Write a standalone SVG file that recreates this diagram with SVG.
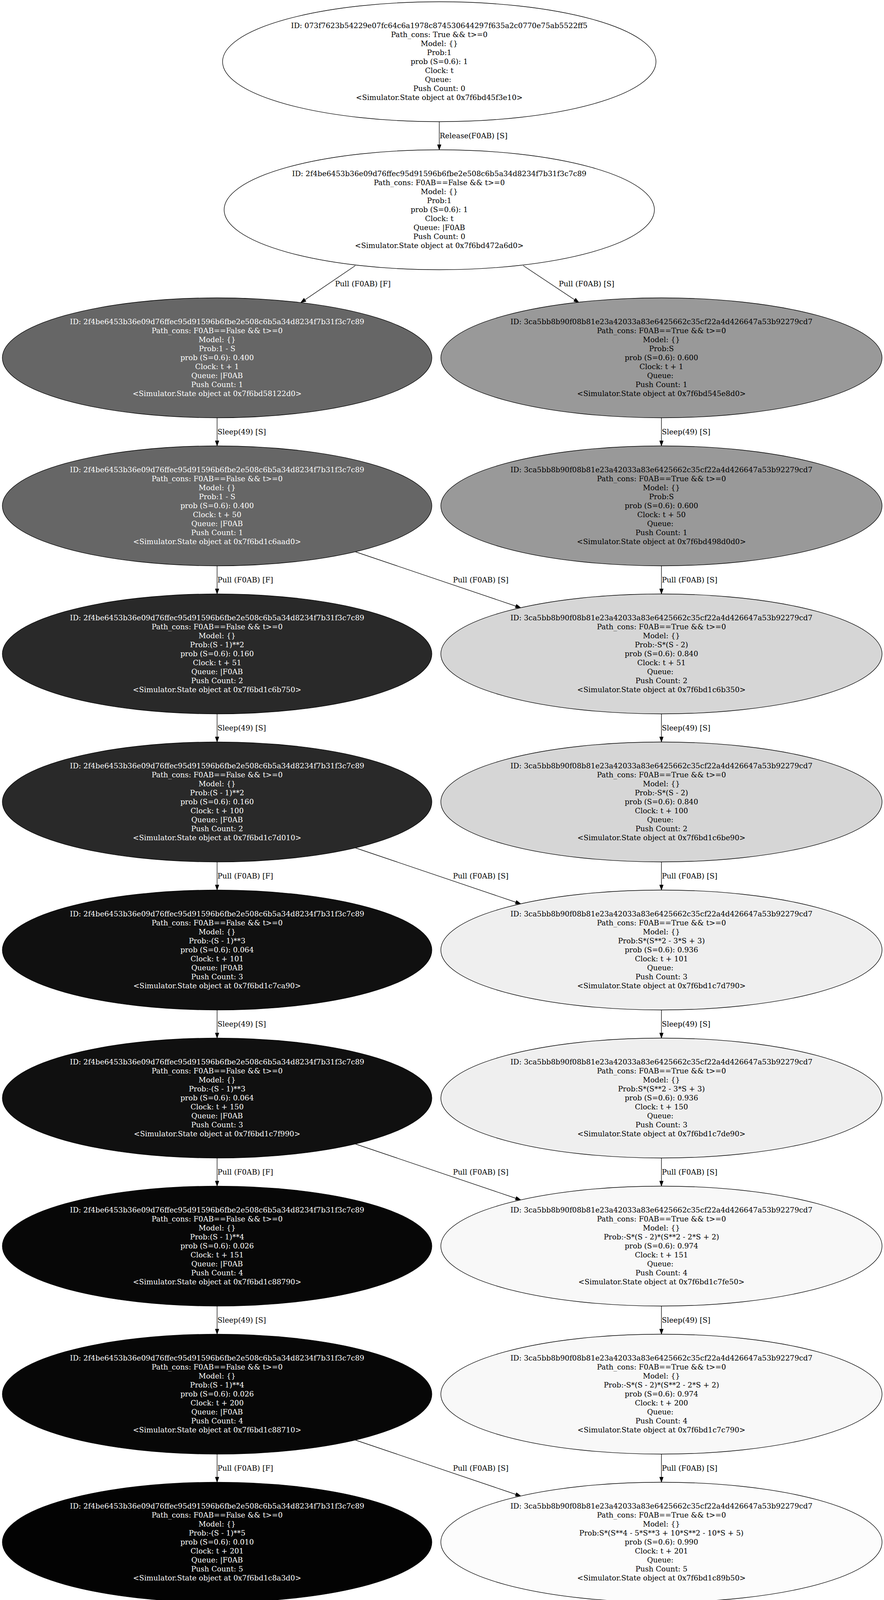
<svg xmlns="http://www.w3.org/2000/svg" width="2264" height="4107" viewBox="0 0 2264 4107">
<style>
text{font-family:"DejaVu Serif","Liberation Serif",serif;font-size:18.67px}
.nt{text-anchor:middle;fill:#000}
.wt{text-anchor:middle;fill:#fff}
.lb{text-anchor:start;fill:#000}
ellipse{stroke:#000;stroke-width:1.33}
.edges line{stroke:#000;stroke-width:1.33;fill:none;marker-end:url(#ah)}
</style>
<defs>
<marker id="ah" markerWidth="15" markerHeight="10" refX="14" refY="5" orient="auto" markerUnits="userSpaceOnUse"><path d="M0,0 L14,5 L0,10 Z" fill="#000" stroke="#000" stroke-width="1"/></marker>
</defs>
<rect width="2264" height="4107" fill="#fff"/>
<g id="edges" class="edges">
<line x1="1125" y1="311.5" x2="1125" y2="383.5"/>
<text class="lb" x="1126" y="353.5">Release(F0AB) [S]</text>
<line x1="910" y1="680" x2="770" y2="775"/>
<text class="lb" x="858" y="733">Pull (F0AB) [F]</text>
<line x1="1340" y1="680" x2="1483" y2="775"/>
<text class="lb" x="1431" y="733">Pull (F0AB) [S]</text>
<line x1="556" y1="1069.5" x2="556" y2="1141.5"/>
<text class="lb" x="557" y="1111.5">Sleep(49) [S]</text>
<line x1="1694" y1="1069.5" x2="1694" y2="1141.5"/>
<text class="lb" x="1695" y="1111.5">Sleep(49) [S]</text>
<line x1="556" y1="1448.5" x2="556" y2="1520.5"/>
<text class="lb" x="557" y="1490.5">Pull (F0AB) [F]</text>
<line x1="910" y1="1412.5" x2="1334" y2="1556"/>
<text class="lb" x="1160" y="1490.5">Pull (F0AB) [S]</text>
<line x1="1694" y1="1448.5" x2="1694" y2="1520.5"/>
<text class="lb" x="1695" y="1490.5">Pull (F0AB) [S]</text>
<line x1="556" y1="1827.5" x2="556" y2="1899.5"/>
<text class="lb" x="557" y="1869.5">Sleep(49) [S]</text>
<line x1="1694" y1="1827.5" x2="1694" y2="1899.5"/>
<text class="lb" x="1695" y="1869.5">Sleep(49) [S]</text>
<line x1="556" y1="2206.5" x2="556" y2="2278.5"/>
<text class="lb" x="557" y="2248.5">Pull (F0AB) [F]</text>
<line x1="910" y1="2170.5" x2="1334" y2="2314"/>
<text class="lb" x="1160" y="2248.5">Pull (F0AB) [S]</text>
<line x1="1694" y1="2206.5" x2="1694" y2="2278.5"/>
<text class="lb" x="1695" y="2248.5">Pull (F0AB) [S]</text>
<line x1="556" y1="2585.5" x2="556" y2="2657.5"/>
<text class="lb" x="557" y="2627.5">Sleep(49) [S]</text>
<line x1="1694" y1="2585.5" x2="1694" y2="2657.5"/>
<text class="lb" x="1695" y="2627.5">Sleep(49) [S]</text>
<line x1="556" y1="2964.5" x2="556" y2="3036.5"/>
<text class="lb" x="557" y="3006.5">Pull (F0AB) [F]</text>
<line x1="910" y1="2928.5" x2="1334" y2="3072"/>
<text class="lb" x="1160" y="3006.5">Pull (F0AB) [S]</text>
<line x1="1694" y1="2964.5" x2="1694" y2="3036.5"/>
<text class="lb" x="1695" y="3006.5">Pull (F0AB) [S]</text>
<line x1="556" y1="3343.5" x2="556" y2="3415.5"/>
<text class="lb" x="557" y="3385.5">Sleep(49) [S]</text>
<line x1="1694" y1="3343.5" x2="1694" y2="3415.5"/>
<text class="lb" x="1695" y="3385.5">Sleep(49) [S]</text>
<line x1="556" y1="3722.5" x2="556" y2="3794.5"/>
<text class="lb" x="557" y="3764.5">Pull (F0AB) [F]</text>
<line x1="910" y1="3686.5" x2="1334" y2="3830"/>
<text class="lb" x="1160" y="3764.5">Pull (F0AB) [S]</text>
<line x1="1694" y1="3722.5" x2="1694" y2="3794.5"/>
<text class="lb" x="1695" y="3764.5">Pull (F0AB) [S]</text>
</g>
<g id="n0">
<ellipse cx="1125" cy="158" rx="555" ry="153.5" fill="#fff"/>
<text class="nt" y="72"><tspan x="1125">ID: 073f7623b54229e07fc64c6a1978c874530644297f635a2c0770e75ab5522ff5</tspan><tspan x="1125" dy="23">Path_cons: True &amp;&amp; t&gt;=0</tspan><tspan x="1125" dy="23">Model: {}</tspan><tspan x="1125" dy="23">Prob:1</tspan><tspan x="1125" dy="23">prob (S=0.6): 1</tspan><tspan x="1125" dy="23">Clock: t</tspan><tspan x="1125" dy="23">Queue: </tspan><tspan x="1125" dy="23">Push Count: 0</tspan><tspan x="1125" dy="23">&lt;Simulator.State object at 0x7f6bd45f3e10&gt;</tspan></text>
</g>
<g id="n1">
<ellipse cx="1125" cy="537" rx="551" ry="153.5" fill="#fff"/>
<text class="nt" y="451"><tspan x="1125">ID: 2f4be6453b36e09d76ffec95d91596b6fbe2e508c6b5a34d8234f7b31f3c7c89</tspan><tspan x="1125" dy="23">Path_cons: F0AB==False &amp;&amp; t&gt;=0</tspan><tspan x="1125" dy="23">Model: {}</tspan><tspan x="1125" dy="23">Prob:1</tspan><tspan x="1125" dy="23">prob (S=0.6): 1</tspan><tspan x="1125" dy="23">Clock: t</tspan><tspan x="1125" dy="23">Queue: |F0AB</tspan><tspan x="1125" dy="23">Push Count: 0</tspan><tspan x="1125" dy="23">&lt;Simulator.State object at 0x7f6bd472a6d0&gt;</tspan></text>
</g>
<g id="l1">
<ellipse cx="556" cy="916" rx="550" ry="153.5" fill="#666666"/>
<text class="wt" y="830"><tspan x="556">ID: 2f4be6453b36e09d76ffec95d91596b6fbe2e508c6b5a34d8234f7b31f3c7c89</tspan><tspan x="556" dy="23">Path_cons: F0AB==False &amp;&amp; t&gt;=0</tspan><tspan x="556" dy="23">Model: {}</tspan><tspan x="556" dy="23">Prob:1 - S</tspan><tspan x="556" dy="23">prob (S=0.6): 0.400</tspan><tspan x="556" dy="23">Clock: t + 1</tspan><tspan x="556" dy="23">Queue: |F0AB</tspan><tspan x="556" dy="23">Push Count: 1</tspan><tspan x="556" dy="23">&lt;Simulator.State object at 0x7f6bd58122d0&gt;</tspan></text>
</g>
<g id="r1">
<ellipse cx="1694" cy="916" rx="565" ry="153.5" fill="#999999"/>
<text class="nt" y="830"><tspan x="1694">ID: 3ca5bb8b90f08b81e23a42033a83e6425662c35cf22a4d426647a53b92279cd7</tspan><tspan x="1694" dy="23">Path_cons: F0AB==True &amp;&amp; t&gt;=0</tspan><tspan x="1694" dy="23">Model: {}</tspan><tspan x="1694" dy="23">Prob:S</tspan><tspan x="1694" dy="23">prob (S=0.6): 0.600</tspan><tspan x="1694" dy="23">Clock: t + 1</tspan><tspan x="1694" dy="23">Queue: </tspan><tspan x="1694" dy="23">Push Count: 1</tspan><tspan x="1694" dy="23">&lt;Simulator.State object at 0x7f6bd545e8d0&gt;</tspan></text>
</g>
<g id="l2">
<ellipse cx="556" cy="1295" rx="550" ry="153.5" fill="#666666"/>
<text class="wt" y="1209"><tspan x="556">ID: 2f4be6453b36e09d76ffec95d91596b6fbe2e508c6b5a34d8234f7b31f3c7c89</tspan><tspan x="556" dy="23">Path_cons: F0AB==False &amp;&amp; t&gt;=0</tspan><tspan x="556" dy="23">Model: {}</tspan><tspan x="556" dy="23">Prob:1 - S</tspan><tspan x="556" dy="23">prob (S=0.6): 0.400</tspan><tspan x="556" dy="23">Clock: t + 50</tspan><tspan x="556" dy="23">Queue: |F0AB</tspan><tspan x="556" dy="23">Push Count: 1</tspan><tspan x="556" dy="23">&lt;Simulator.State object at 0x7f6bd1c6aad0&gt;</tspan></text>
</g>
<g id="r2">
<ellipse cx="1694" cy="1295" rx="565" ry="153.5" fill="#999999"/>
<text class="nt" y="1209"><tspan x="1694">ID: 3ca5bb8b90f08b81e23a42033a83e6425662c35cf22a4d426647a53b92279cd7</tspan><tspan x="1694" dy="23">Path_cons: F0AB==True &amp;&amp; t&gt;=0</tspan><tspan x="1694" dy="23">Model: {}</tspan><tspan x="1694" dy="23">Prob:S</tspan><tspan x="1694" dy="23">prob (S=0.6): 0.600</tspan><tspan x="1694" dy="23">Clock: t + 50</tspan><tspan x="1694" dy="23">Queue: </tspan><tspan x="1694" dy="23">Push Count: 1</tspan><tspan x="1694" dy="23">&lt;Simulator.State object at 0x7f6bd498d0d0&gt;</tspan></text>
</g>
<g id="l3">
<ellipse cx="556" cy="1674" rx="550" ry="153.5" fill="#292929"/>
<text class="wt" y="1588"><tspan x="556">ID: 2f4be6453b36e09d76ffec95d91596b6fbe2e508c6b5a34d8234f7b31f3c7c89</tspan><tspan x="556" dy="23">Path_cons: F0AB==False &amp;&amp; t&gt;=0</tspan><tspan x="556" dy="23">Model: {}</tspan><tspan x="556" dy="23">Prob:(S - 1)**2</tspan><tspan x="556" dy="23">prob (S=0.6): 0.160</tspan><tspan x="556" dy="23">Clock: t + 51</tspan><tspan x="556" dy="23">Queue: |F0AB</tspan><tspan x="556" dy="23">Push Count: 2</tspan><tspan x="556" dy="23">&lt;Simulator.State object at 0x7f6bd1c6b750&gt;</tspan></text>
</g>
<g id="r3">
<ellipse cx="1694" cy="1674" rx="565" ry="153.5" fill="#d6d6d6"/>
<text class="nt" y="1588"><tspan x="1694">ID: 3ca5bb8b90f08b81e23a42033a83e6425662c35cf22a4d426647a53b92279cd7</tspan><tspan x="1694" dy="23">Path_cons: F0AB==True &amp;&amp; t&gt;=0</tspan><tspan x="1694" dy="23">Model: {}</tspan><tspan x="1694" dy="23">Prob:-S*(S - 2)</tspan><tspan x="1694" dy="23">prob (S=0.6): 0.840</tspan><tspan x="1694" dy="23">Clock: t + 51</tspan><tspan x="1694" dy="23">Queue: </tspan><tspan x="1694" dy="23">Push Count: 2</tspan><tspan x="1694" dy="23">&lt;Simulator.State object at 0x7f6bd1c6b350&gt;</tspan></text>
</g>
<g id="l4">
<ellipse cx="556" cy="2053" rx="550" ry="153.5" fill="#292929"/>
<text class="wt" y="1967"><tspan x="556">ID: 2f4be6453b36e09d76ffec95d91596b6fbe2e508c6b5a34d8234f7b31f3c7c89</tspan><tspan x="556" dy="23">Path_cons: F0AB==False &amp;&amp; t&gt;=0</tspan><tspan x="556" dy="23">Model: {}</tspan><tspan x="556" dy="23">Prob:(S - 1)**2</tspan><tspan x="556" dy="23">prob (S=0.6): 0.160</tspan><tspan x="556" dy="23">Clock: t + 100</tspan><tspan x="556" dy="23">Queue: |F0AB</tspan><tspan x="556" dy="23">Push Count: 2</tspan><tspan x="556" dy="23">&lt;Simulator.State object at 0x7f6bd1c7d010&gt;</tspan></text>
</g>
<g id="r4">
<ellipse cx="1694" cy="2053" rx="565" ry="153.5" fill="#d6d6d6"/>
<text class="nt" y="1967"><tspan x="1694">ID: 3ca5bb8b90f08b81e23a42033a83e6425662c35cf22a4d426647a53b92279cd7</tspan><tspan x="1694" dy="23">Path_cons: F0AB==True &amp;&amp; t&gt;=0</tspan><tspan x="1694" dy="23">Model: {}</tspan><tspan x="1694" dy="23">Prob:-S*(S - 2)</tspan><tspan x="1694" dy="23">prob (S=0.6): 0.840</tspan><tspan x="1694" dy="23">Clock: t + 100</tspan><tspan x="1694" dy="23">Queue: </tspan><tspan x="1694" dy="23">Push Count: 2</tspan><tspan x="1694" dy="23">&lt;Simulator.State object at 0x7f6bd1c6be90&gt;</tspan></text>
</g>
<g id="l5">
<ellipse cx="556" cy="2432" rx="550" ry="153.5" fill="#101010"/>
<text class="wt" y="2346"><tspan x="556">ID: 2f4be6453b36e09d76ffec95d91596b6fbe2e508c6b5a34d8234f7b31f3c7c89</tspan><tspan x="556" dy="23">Path_cons: F0AB==False &amp;&amp; t&gt;=0</tspan><tspan x="556" dy="23">Model: {}</tspan><tspan x="556" dy="23">Prob:-(S - 1)**3</tspan><tspan x="556" dy="23">prob (S=0.6): 0.064</tspan><tspan x="556" dy="23">Clock: t + 101</tspan><tspan x="556" dy="23">Queue: |F0AB</tspan><tspan x="556" dy="23">Push Count: 3</tspan><tspan x="556" dy="23">&lt;Simulator.State object at 0x7f6bd1c7ca90&gt;</tspan></text>
</g>
<g id="r5">
<ellipse cx="1694" cy="2432" rx="565" ry="153.5" fill="#efefef"/>
<text class="nt" y="2346"><tspan x="1694">ID: 3ca5bb8b90f08b81e23a42033a83e6425662c35cf22a4d426647a53b92279cd7</tspan><tspan x="1694" dy="23">Path_cons: F0AB==True &amp;&amp; t&gt;=0</tspan><tspan x="1694" dy="23">Model: {}</tspan><tspan x="1694" dy="23">Prob:S*(S**2 - 3*S + 3)</tspan><tspan x="1694" dy="23">prob (S=0.6): 0.936</tspan><tspan x="1694" dy="23">Clock: t + 101</tspan><tspan x="1694" dy="23">Queue: </tspan><tspan x="1694" dy="23">Push Count: 3</tspan><tspan x="1694" dy="23">&lt;Simulator.State object at 0x7f6bd1c7d790&gt;</tspan></text>
</g>
<g id="l6">
<ellipse cx="556" cy="2811" rx="550" ry="153.5" fill="#101010"/>
<text class="wt" y="2725"><tspan x="556">ID: 2f4be6453b36e09d76ffec95d91596b6fbe2e508c6b5a34d8234f7b31f3c7c89</tspan><tspan x="556" dy="23">Path_cons: F0AB==False &amp;&amp; t&gt;=0</tspan><tspan x="556" dy="23">Model: {}</tspan><tspan x="556" dy="23">Prob:-(S - 1)**3</tspan><tspan x="556" dy="23">prob (S=0.6): 0.064</tspan><tspan x="556" dy="23">Clock: t + 150</tspan><tspan x="556" dy="23">Queue: |F0AB</tspan><tspan x="556" dy="23">Push Count: 3</tspan><tspan x="556" dy="23">&lt;Simulator.State object at 0x7f6bd1c7f990&gt;</tspan></text>
</g>
<g id="r6">
<ellipse cx="1694" cy="2811" rx="565" ry="153.5" fill="#efefef"/>
<text class="nt" y="2725"><tspan x="1694">ID: 3ca5bb8b90f08b81e23a42033a83e6425662c35cf22a4d426647a53b92279cd7</tspan><tspan x="1694" dy="23">Path_cons: F0AB==True &amp;&amp; t&gt;=0</tspan><tspan x="1694" dy="23">Model: {}</tspan><tspan x="1694" dy="23">Prob:S*(S**2 - 3*S + 3)</tspan><tspan x="1694" dy="23">prob (S=0.6): 0.936</tspan><tspan x="1694" dy="23">Clock: t + 150</tspan><tspan x="1694" dy="23">Queue: </tspan><tspan x="1694" dy="23">Push Count: 3</tspan><tspan x="1694" dy="23">&lt;Simulator.State object at 0x7f6bd1c7de90&gt;</tspan></text>
</g>
<g id="l7">
<ellipse cx="556" cy="3190" rx="550" ry="153.5" fill="#070707"/>
<text class="wt" y="3104"><tspan x="556">ID: 2f4be6453b36e09d76ffec95d91596b6fbe2e508c6b5a34d8234f7b31f3c7c89</tspan><tspan x="556" dy="23">Path_cons: F0AB==False &amp;&amp; t&gt;=0</tspan><tspan x="556" dy="23">Model: {}</tspan><tspan x="556" dy="23">Prob:(S - 1)**4</tspan><tspan x="556" dy="23">prob (S=0.6): 0.026</tspan><tspan x="556" dy="23">Clock: t + 151</tspan><tspan x="556" dy="23">Queue: |F0AB</tspan><tspan x="556" dy="23">Push Count: 4</tspan><tspan x="556" dy="23">&lt;Simulator.State object at 0x7f6bd1c88790&gt;</tspan></text>
</g>
<g id="r7">
<ellipse cx="1694" cy="3190" rx="565" ry="153.5" fill="#f8f8f8"/>
<text class="nt" y="3104"><tspan x="1694">ID: 3ca5bb8b90f08b81e23a42033a83e6425662c35cf22a4d426647a53b92279cd7</tspan><tspan x="1694" dy="23">Path_cons: F0AB==True &amp;&amp; t&gt;=0</tspan><tspan x="1694" dy="23">Model: {}</tspan><tspan x="1694" dy="23">Prob:-S*(S - 2)*(S**2 - 2*S + 2)</tspan><tspan x="1694" dy="23">prob (S=0.6): 0.974</tspan><tspan x="1694" dy="23">Clock: t + 151</tspan><tspan x="1694" dy="23">Queue: </tspan><tspan x="1694" dy="23">Push Count: 4</tspan><tspan x="1694" dy="23">&lt;Simulator.State object at 0x7f6bd1c7fe50&gt;</tspan></text>
</g>
<g id="l8">
<ellipse cx="556" cy="3569" rx="550" ry="153.5" fill="#070707"/>
<text class="wt" y="3483"><tspan x="556">ID: 2f4be6453b36e09d76ffec95d91596b6fbe2e508c6b5a34d8234f7b31f3c7c89</tspan><tspan x="556" dy="23">Path_cons: F0AB==False &amp;&amp; t&gt;=0</tspan><tspan x="556" dy="23">Model: {}</tspan><tspan x="556" dy="23">Prob:(S - 1)**4</tspan><tspan x="556" dy="23">prob (S=0.6): 0.026</tspan><tspan x="556" dy="23">Clock: t + 200</tspan><tspan x="556" dy="23">Queue: |F0AB</tspan><tspan x="556" dy="23">Push Count: 4</tspan><tspan x="556" dy="23">&lt;Simulator.State object at 0x7f6bd1c88710&gt;</tspan></text>
</g>
<g id="r8">
<ellipse cx="1694" cy="3569" rx="565" ry="153.5" fill="#f8f8f8"/>
<text class="nt" y="3483"><tspan x="1694">ID: 3ca5bb8b90f08b81e23a42033a83e6425662c35cf22a4d426647a53b92279cd7</tspan><tspan x="1694" dy="23">Path_cons: F0AB==True &amp;&amp; t&gt;=0</tspan><tspan x="1694" dy="23">Model: {}</tspan><tspan x="1694" dy="23">Prob:-S*(S - 2)*(S**2 - 2*S + 2)</tspan><tspan x="1694" dy="23">prob (S=0.6): 0.974</tspan><tspan x="1694" dy="23">Clock: t + 200</tspan><tspan x="1694" dy="23">Queue: </tspan><tspan x="1694" dy="23">Push Count: 4</tspan><tspan x="1694" dy="23">&lt;Simulator.State object at 0x7f6bd1c7c790&gt;</tspan></text>
</g>
<g id="l9">
<ellipse cx="556" cy="3948" rx="550" ry="153.5" fill="#030303"/>
<text class="wt" y="3862"><tspan x="556">ID: 2f4be6453b36e09d76ffec95d91596b6fbe2e508c6b5a34d8234f7b31f3c7c89</tspan><tspan x="556" dy="23">Path_cons: F0AB==False &amp;&amp; t&gt;=0</tspan><tspan x="556" dy="23">Model: {}</tspan><tspan x="556" dy="23">Prob:-(S - 1)**5</tspan><tspan x="556" dy="23">prob (S=0.6): 0.010</tspan><tspan x="556" dy="23">Clock: t + 201</tspan><tspan x="556" dy="23">Queue: |F0AB</tspan><tspan x="556" dy="23">Push Count: 5</tspan><tspan x="556" dy="23">&lt;Simulator.State object at 0x7f6bd1c8a3d0&gt;</tspan></text>
</g>
<g id="r9">
<ellipse cx="1694" cy="3948" rx="565" ry="153.5" fill="#fcfcfc"/>
<text class="nt" y="3862"><tspan x="1694">ID: 3ca5bb8b90f08b81e23a42033a83e6425662c35cf22a4d426647a53b92279cd7</tspan><tspan x="1694" dy="23">Path_cons: F0AB==True &amp;&amp; t&gt;=0</tspan><tspan x="1694" dy="23">Model: {}</tspan><tspan x="1694" dy="23">Prob:S*(S**4 - 5*S**3 + 10*S**2 - 10*S + 5)</tspan><tspan x="1694" dy="23">prob (S=0.6): 0.990</tspan><tspan x="1694" dy="23">Clock: t + 201</tspan><tspan x="1694" dy="23">Queue: </tspan><tspan x="1694" dy="23">Push Count: 5</tspan><tspan x="1694" dy="23">&lt;Simulator.State object at 0x7f6bd1c89b50&gt;</tspan></text>
</g>
</svg>
